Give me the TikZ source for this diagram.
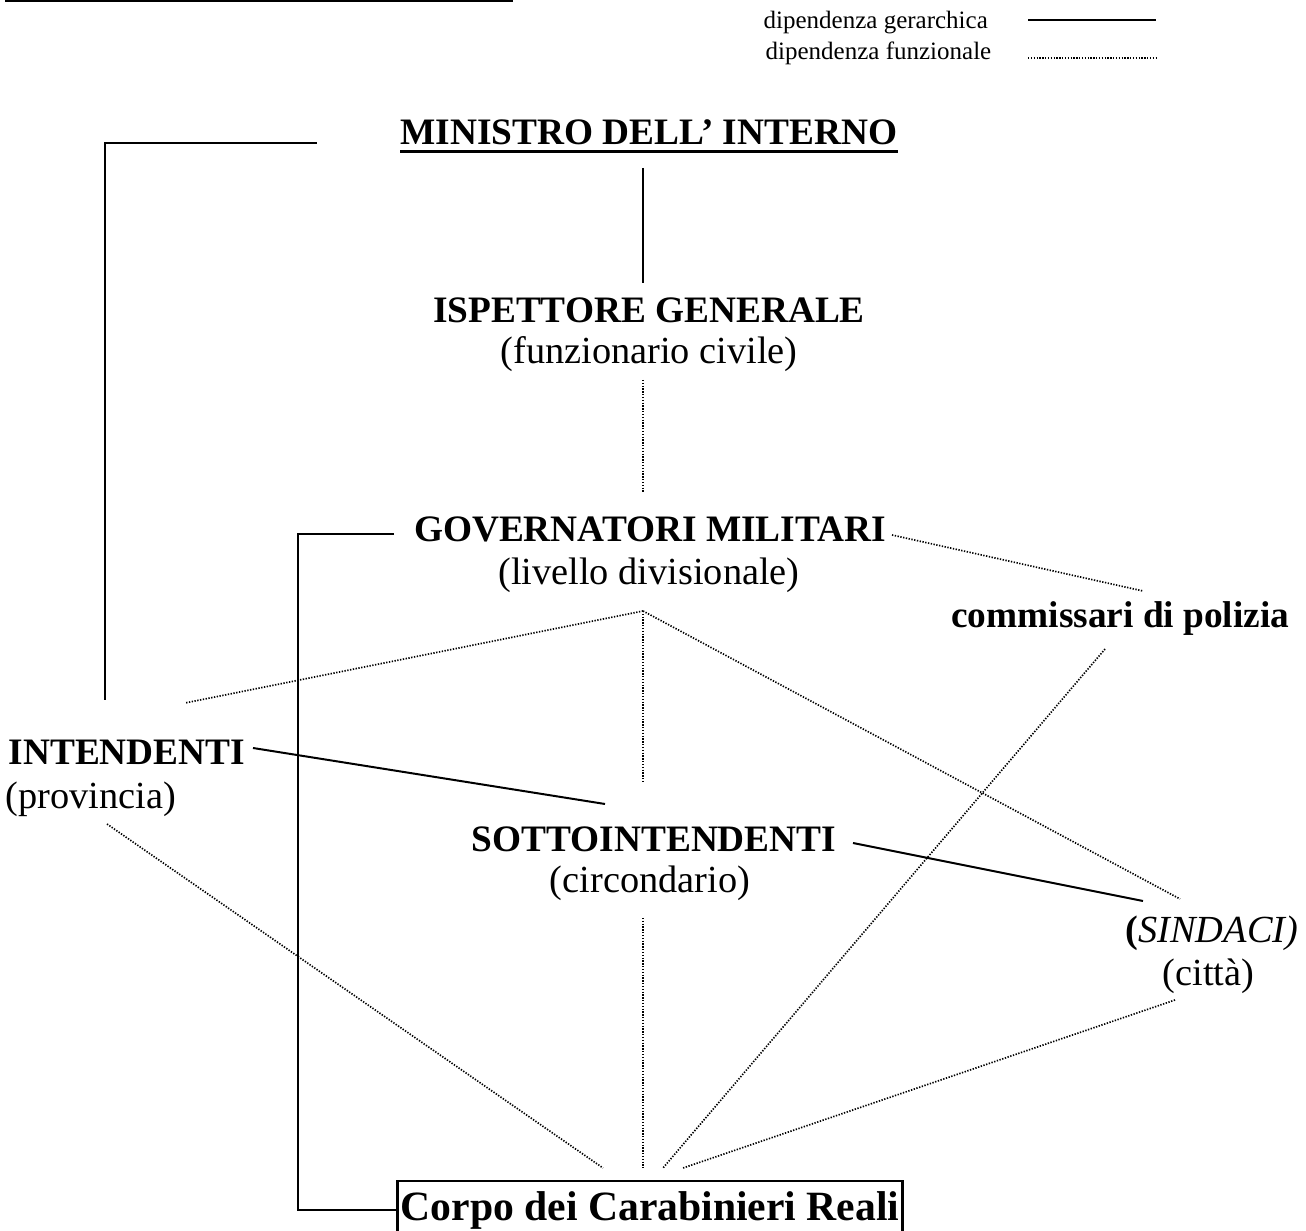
\documentclass[tikz,border=0pt]{standalone}
\usepackage{fontspec}
\setmainfont{Liberation Serif}

\tikzset{
    titolo/.style={font=\fontsize{11.2}{13}\selectfont\bfseries, inner sep=0pt, anchor=base},
    nota/.style={font=\fontsize{11.5}{13}\selectfont, inner sep=0pt, anchor=base},
    legenda/.style={font=\fontsize{7.5}{9}\selectfont, inner sep=0pt, anchor=base west},
    corpo/.style={draw, line width=0.8pt, font=\fontsize{12.5}{15}\selectfont\bfseries,
        inner xsep=1pt, inner ysep=3pt, anchor=base},
    gerarchica/.style={line width=0.6pt},
    funzionale/.style={line width=0.5pt, dash pattern=on 0.4pt off 0.45pt},
}

\begin{document}
\begin{tikzpicture}[x=0.3pt, y=-0.3pt]
    \useasboundingbox (0,0) rectangle (1306,1231);
    \draw[line width=0.6pt] (5,1.5) -- (513,1.5);
    % legenda
    \node[legenda](leg1) at (763,29) {dipendenza gerarchica};
    \node[legenda](leg2) at (765,60) {dipendenza funzionale};
    \coordinate (l1) at (1028,20);
    \coordinate (l2) at (1156,20);
    \coordinate (l3) at (1028,58);
    \coordinate (l4) at (1156,58);
    % vertici
    \node[titolo](min) at (649,145) {MINISTRO DELL’ INTERNO};
    \draw[line width=0.8pt] ([yshift=-2pt]min.base west) -- ([yshift=-2pt]min.base east);
    \node[titolo](isp) at (649,323) {ISPETTORE GENERALE};
    \node[nota](ispn) at (649,364) {(funzionario civile)};
    \node[titolo](gov) at (650,542) {GOVERNATORI MILITARI};
    \node[nota](govn) at (649,585) {(livello divisionale)};
    \node[titolo, anchor=base east](comm) at (1290,628) {commissari di polizia};
    % periferia
    \node[titolo, anchor=base west](int) at (8,765) {INTENDENTI};
    \node[nota, anchor=base west](intn) at (5,809) {(provincia)};
    \node[titolo](sott) at (654,852) {SOTTOINTENDENTI};
    \node[nota](sottn) at (650,893) {(circondario)};
    \node[nota, anchor=base west](sind) at (1125,942) {\textbf{(}\textit{SINDACI)}};
    \node[nota, anchor=base west](sindn) at (1162,985) {(città)};
    \node[corpo](corpo) at (650,1220) {Corpo dei Carabinieri Reali};
    % estremi
    \coordinate (a1) at (105,700);
    \coordinate (a2) at (105,143);
    \coordinate (a3) at (317,143);
    \coordinate (b1) at (643,168);
    \coordinate (b2) at (643,283);
    \coordinate (c1) at (394,534);
    \coordinate (c2) at (298,534);
    \coordinate (d1) at (253,748);
    \coordinate (d2) at (605,804);
    \coordinate (e1) at (853,843);
    \coordinate (e2) at (1143,901);
    \coordinate (f1) at (643,380);
    \coordinate (f2) at (643,493);
    \coordinate (g1) at (892,535);
    \coordinate (g2) at (1143,591);
    \coordinate (h0) at (643,611);
    \coordinate (h1) at (185,703);
    \coordinate (h2) at (643,783);
    \coordinate (h3) at (1180,899);
    \coordinate (k1) at (107,824);
    \coordinate (k2) at (643,918);
    \coordinate (k3) at (1105,649);
    \coordinate (k4) at (1175,1000);
    \coordinate (k5) at (603,1168);
    \coordinate (k6) at (643,1168);
    \coordinate (k7) at (663,1168);
    \coordinate (k8) at (683,1168);
    % dipendenza gerarchica
    \draw[gerarchica] (a1) -- (a2) -- (a3);
    \draw[gerarchica] (c1) -- (c2) |- (corpo.west);
    \path
        (l1) edge [gerarchica] (l2)
        (b1) edge [gerarchica] (b2)
        (d1) edge [gerarchica] (d2)
        (e1) edge [gerarchica] (e2)
        ;
    % dipendenza funzionale
    \path
        (l3) edge [funzionale] (l4)
        (f1) edge [funzionale] (f2)
        (g1) edge [funzionale] (g2)
        (h0)
            edge [funzionale] (h1)
            edge [funzionale] (h2)
            edge [funzionale] (h3)
        (k1) edge [funzionale] (k5)
        (k2) edge [funzionale] (k6)
        (k3) edge [funzionale] (k7)
        (k4) edge [funzionale] (k8)
        ;
\end{tikzpicture}
\end{document}
